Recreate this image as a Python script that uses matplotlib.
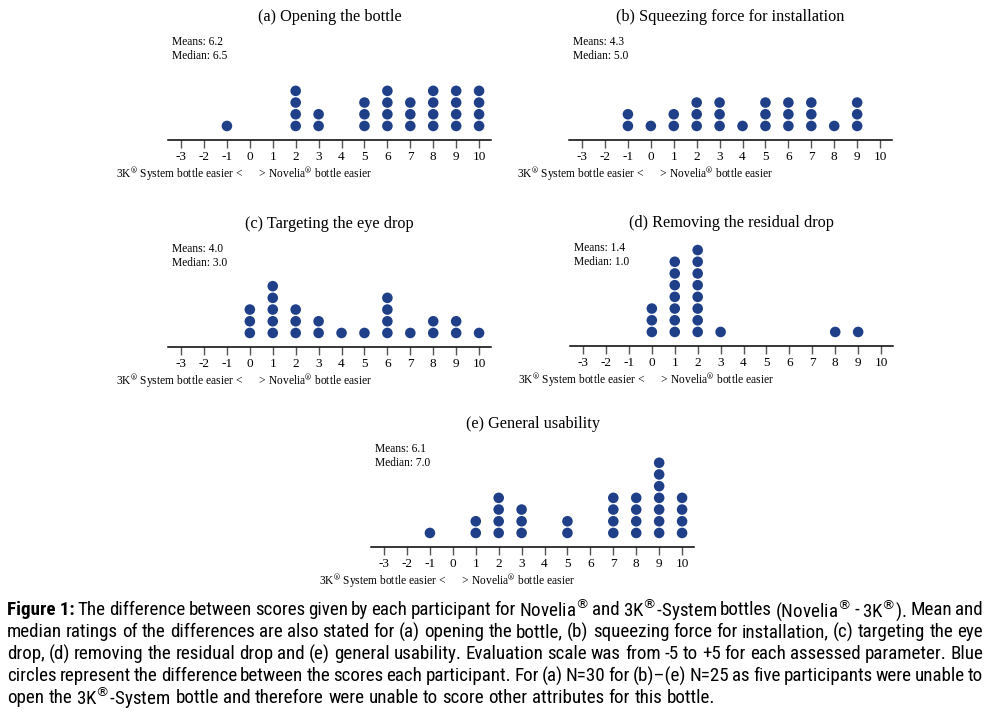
import matplotlib
matplotlib.use("Agg")
import matplotlib.pyplot as plt
import numpy as np

plt.rcParams['axes.unicode_minus'] = False

# score differences (Novelia - 3K) and how many participants gave each
scores_a = [-1, 2, 3, 5, 6, 7, 8, 9, 10]
counts_a = [1, 4, 2, 3, 4, 3, 4, 4, 4]
scores_b = [-1, 0, 1, 2, 3, 4, 5, 6, 7, 8, 9]
counts_b = [2, 1, 2, 3, 3, 1, 3, 3, 3, 1, 3]
scores_c = [0, 1, 2, 3, 4, 5, 6, 7, 8, 9, 10]
counts_c = [3, 5, 3, 2, 1, 1, 4, 1, 2, 2, 1]
scores_d = [0, 1, 2, 3, 8, 9]
counts_d = [3, 7, 8, 1, 1, 1]
scores_e = [-1, 1, 2, 3, 5, 7, 8, 9, 10]
counts_e = [1, 2, 4, 3, 2, 4, 4, 7, 4]

titles = ["(a) Opening the bottle", "(b) Squeezing force for installation",
          "(c) Targeting the eye drop", "(d) Removing the residual drop",
          "(e) General usability"]
means = ["6.2", "4.3", "4.0", "1.4", "6.1"]
medians = ["6.5", "5.0", "3.0", "1.0", "7.0"]
ticks = list(range(-3, 11))

panel_scores = [scores_a, scores_b, scores_c, scores_d, scores_e]
panel_counts = [counts_a, counts_b, counts_c, counts_d, counts_e]

W, H = 990, 715
# (axis left px, axis line y px) for each panel
anchors = [(168, 140), (569, 140), (168, 347), (570, 346), (371, 547)]
ax_w, ax_h = 323, 110
row_px = 11.7

dot_color = '#1f4088'
serif = ['Liberation Serif', 'DejaVu Serif']

fig = plt.figure(figsize=(W / 100, H / 100), dpi=100)

for i in range(5):
    x0, y0 = anchors[i]
    ax = fig.add_axes([x0 / W, (H - y0) / H, ax_w / W, ax_h / H])
    xs, ys = [], []
    for s, c in zip(panel_scores[i], panel_counts[i]):
        for k in range(c):
            xs.append(s)
            ys.append(k + 1)
    ax.scatter(xs, ys, s=58, color=dot_color, edgecolors='none', clip_on=False, zorder=3)
    ax.set_xlim(-3.57, 10.52)
    ax.set_ylim(-0.2, -0.2 + ax_h / row_px)
    for sp in ['top', 'right', 'left']:
        ax.spines[sp].set_visible(False)
    ax.spines['bottom'].set_linewidth(1.1)
    ax.set_yticks([])
    ax.set_xticks(ticks)
    ax.set_xticklabels([str(t) for t in ticks], family=serif, fontsize=9.5)
    ax.tick_params(axis='x', direction='out', length=6, width=1, color='#555555', pad=2)
    ax.patch.set_alpha(0)

    cx = (x0 + ax_w / 2) / W
    fig.text(cx, (H - (y0 - 123)) / H, titles[i], family=serif, fontsize=11.7,
             ha='center', va='center')
    fig.text((x0 + 4) / W, (H - (y0 - 98)) / H, "Means: " + means[i], family=serif,
             fontsize=8.3, ha='left', va='center')
    fig.text((x0 + 4) / W, (H - (y0 - 84)) / H, "Median: " + medians[i], family=serif,
             fontsize=8.3, ha='left', va='center')
    fig.text((x0 - 52) / W, (H - (y0 + 35)) / H,
             "3K$^{®}$ System bottle easier <      > Novelia$^{®}$ bottle easier",
             family=serif, math_fontfamily='stix', fontsize=8.3, ha='left', va='center')

# caption, justified word by word
cap_font = ['Roboto Condensed', 'Roboto', 'DejaVu Sans']
cap_lines = [
    "Figure 1: The difference between scores given by each participant for Novelia$^{®}$ and 3K$^{®}$-System bottles (Novelia$^{®}$ - 3K$^{®}$). Mean and",
    "median ratings of the differences are also stated for (a) opening the bottle, (b) squeezing force for installation, (c) targeting the eye",
    "drop, (d) removing the residual drop and (e) general usability. Evaluation scale was from -5 to +5 for each assessed parameter. Blue",
    "circles represent the difference between the scores each participant. For (a) N=30 for (b)–(e) N=25 as five participants were unable to",
    "open the 3K$^{®}$-System bottle and therefore were unable to score other attributes for this bottle.",
]
line_y = [610, 632, 654, 676, 698]
cap_left, cap_right = 7, 983

renderer = fig.canvas.get_renderer()


def width_px(t):
    return t.get_window_extent(renderer).width


# one size for all lines, scaled from the width of a full line
cap_size = 12.3
probe = fig.text(0, 0, cap_lines[1], family=cap_font, fontsize=cap_size)
w_full = width_px(probe)
probe.remove()
cap_size = cap_size * (cap_right - cap_left) / w_full * 1.01

for li, (line, yy) in enumerate(zip(cap_lines, line_y)):
    words = line.split(' ')
    if li == 0:
        words = ["Figure 1:"] + words[2:]
    arts = []
    for wi, w in enumerate(words):
        bold = (li == 0 and wi == 0)
        t = fig.text(0, (H - yy) / H, w, family=cap_font, fontsize=cap_size,
                     fontweight='bold' if bold else 'normal',
                     math_fontfamily='dejavusans', ha='left', va='center')
        arts.append(t)
    widths = [width_px(t) for t in arts]
    space = fig.text(0, 0, "a a", family=cap_font, fontsize=cap_size)
    a_only = fig.text(0, 0, "aa", family=cap_font, fontsize=cap_size)
    sp_w = width_px(space) - width_px(a_only)
    space.remove()
    a_only.remove()
    if li < 4:
        gap = (cap_right - cap_left - sum(widths)) / (len(words) - 1)
    else:
        gap = sp_w
    x = cap_left
    for t, w in zip(arts, widths):
        t.set_x(x / W)
        x += w + gap

fig.savefig('out.png', dpi=100)
